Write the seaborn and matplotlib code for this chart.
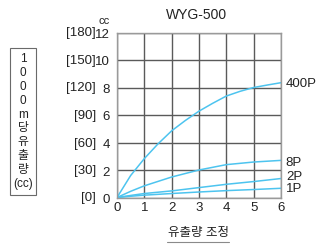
import numpy as np
import pandas as pd
import matplotlib
matplotlib.use("Agg")
import matplotlib.pyplot as plt
import seaborn as sns
from matplotlib.patches import Rectangle
from matplotlib.lines import Line2D
from matplotlib.transforms import blended_transform_factory

# ---- data ----
x_400p = [0, 0.5, 1, 1.5, 2, 2.5, 3, 3.5, 4, 4.5, 5, 5.5, 6]
y_400p = [0, 1.6, 2.83, 3.9, 4.85, 5.6, 6.28, 6.85, 7.38, 7.72, 8.0, 8.18, 8.35]
x_small = [0, 0.5, 1, 2, 3, 4, 5, 6]
y_8p = [0, 0.45, 0.85, 1.49, 2.0, 2.39, 2.58, 2.7]
y_2p = [0, 0.15, 0.29, 0.48, 0.72, 0.96, 1.16, 1.38]
y_1p = [0, 0.09, 0.17, 0.29, 0.40, 0.50, 0.58, 0.67]
series_names = ["400P", "8P", "2P", "1P"]
y_ticks = [0, 2, 4, 6, 8, 10, 12]
y_bracket_labels = ["[0]", "[30]", "[60]", "[90]", "[120]", "[150]", "[180]"]
x_ticks = [0, 1, 2, 3, 4, 5, 6]
title = "WYG-500"
x_label = "유출량 조정"
y_box_lines = ["1", "0", "0", "0", "m", "당", "유", "출", "량", "(cc)"]
y_unit = "cc"

frames = []
for name, xs, ys in [("400P", x_400p, y_400p), ("8P", x_small, y_8p),
                     ("2P", x_small, y_2p), ("1P", x_small, y_1p)]:
    frames.append(pd.DataFrame({"x": xs, "y": ys, "series": name}))
df = pd.concat(frames, ignore_index=True)

sns.set_style("white")
plt.rcParams["font.family"] = ["Liberation Sans", "Noto Sans CJK KR", "DejaVu Sans"]

W, H = 324, 253
fig = plt.figure(figsize=(W / 100, H / 100), dpi=100)
ax = fig.add_axes([117 / W, 1 - 198.5 / H, 164 / W, 165 / H])

line_color = "#4dc4ef"
sns.lineplot(data=df, x="x", y="y", hue="series", hue_order=series_names,
             palette=[line_color] * 4, legend=False, ax=ax, linewidth=1.1,
             sort=True, estimator=None)

ax.set_xlim(0, 6)
ax.set_ylim(0, 12)
ax.set_xticks(x_ticks)
ax.set_yticks(y_ticks)
ax.set_xticklabels([str(v) for v in x_ticks])
ax.set_yticklabels([str(v) for v in y_ticks])
ax.tick_params(axis="both", length=0, labelsize=9.5, colors="#222222")
ax.tick_params(axis="y", pad=5)
ax.tick_params(axis="x", pad=2.5)
ax.set_xlabel("")
ax.set_ylabel("")
ax.grid(True, color="#5a5a5a", linewidth=1.0)
ax.set_axisbelow(True)
for s in ax.spines.values():
    s.set_color("#9a9a9a")
    s.set_linewidth(1.0)

# bracket secondary labels
trans = blended_transform_factory(ax.transAxes, ax.transData)
for v, lab in zip(y_ticks, y_bracket_labels):
    ax.text(-21 / 164, v, lab, transform=trans, ha="right", va="center",
            fontsize=9.5, color="#222222")

# series end labels
offsets = {"400P": 0, "8P": -1, "2P": 2, "1P": 0}
ends = {"400P": y_400p[-1], "8P": y_8p[-1], "2P": y_2p[-1], "1P": y_1p[-1]}
for name in series_names:
    ax.annotate(name, xy=(6, ends[name]), xytext=(3.5, offsets[name]),
                textcoords="offset points", ha="left", va="center",
                fontsize=9.5, color="#222222", annotation_clip=False)

# title, unit
fig.text(197 / W, 1 - 15 / H, title, ha="center", va="center", fontsize=10, color="#222222")
fig.text(104 / W, 1 - 21 / H, y_unit, ha="center", va="center", fontsize=8, color="#222222")

# x label with underline
fig.text(198 / W, 1 - 233 / H, x_label, ha="center", va="center", fontsize=9, color="#222222")
fig.add_artist(Line2D([167 / W, 229 / W], [1 - 242.5 / H] * 2, transform=fig.transFigure,
                      color="#8a8a8a", linewidth=0.8))

# y label box
fig.add_artist(Rectangle((10 / W, 1 - 196 / H), 26 / W, 147 / H, transform=fig.transFigure,
                         fill=False, edgecolor="#6a6a6a", linewidth=0.8))
ys = np.linspace(59, 184, len(y_box_lines))
for yy, t in zip(ys, y_box_lines):
    fig.text(23 / W, 1 - yy / H, t, ha="center", va="center", fontsize=8.5, color="#222222")

fig.savefig("out.png", dpi=100)
